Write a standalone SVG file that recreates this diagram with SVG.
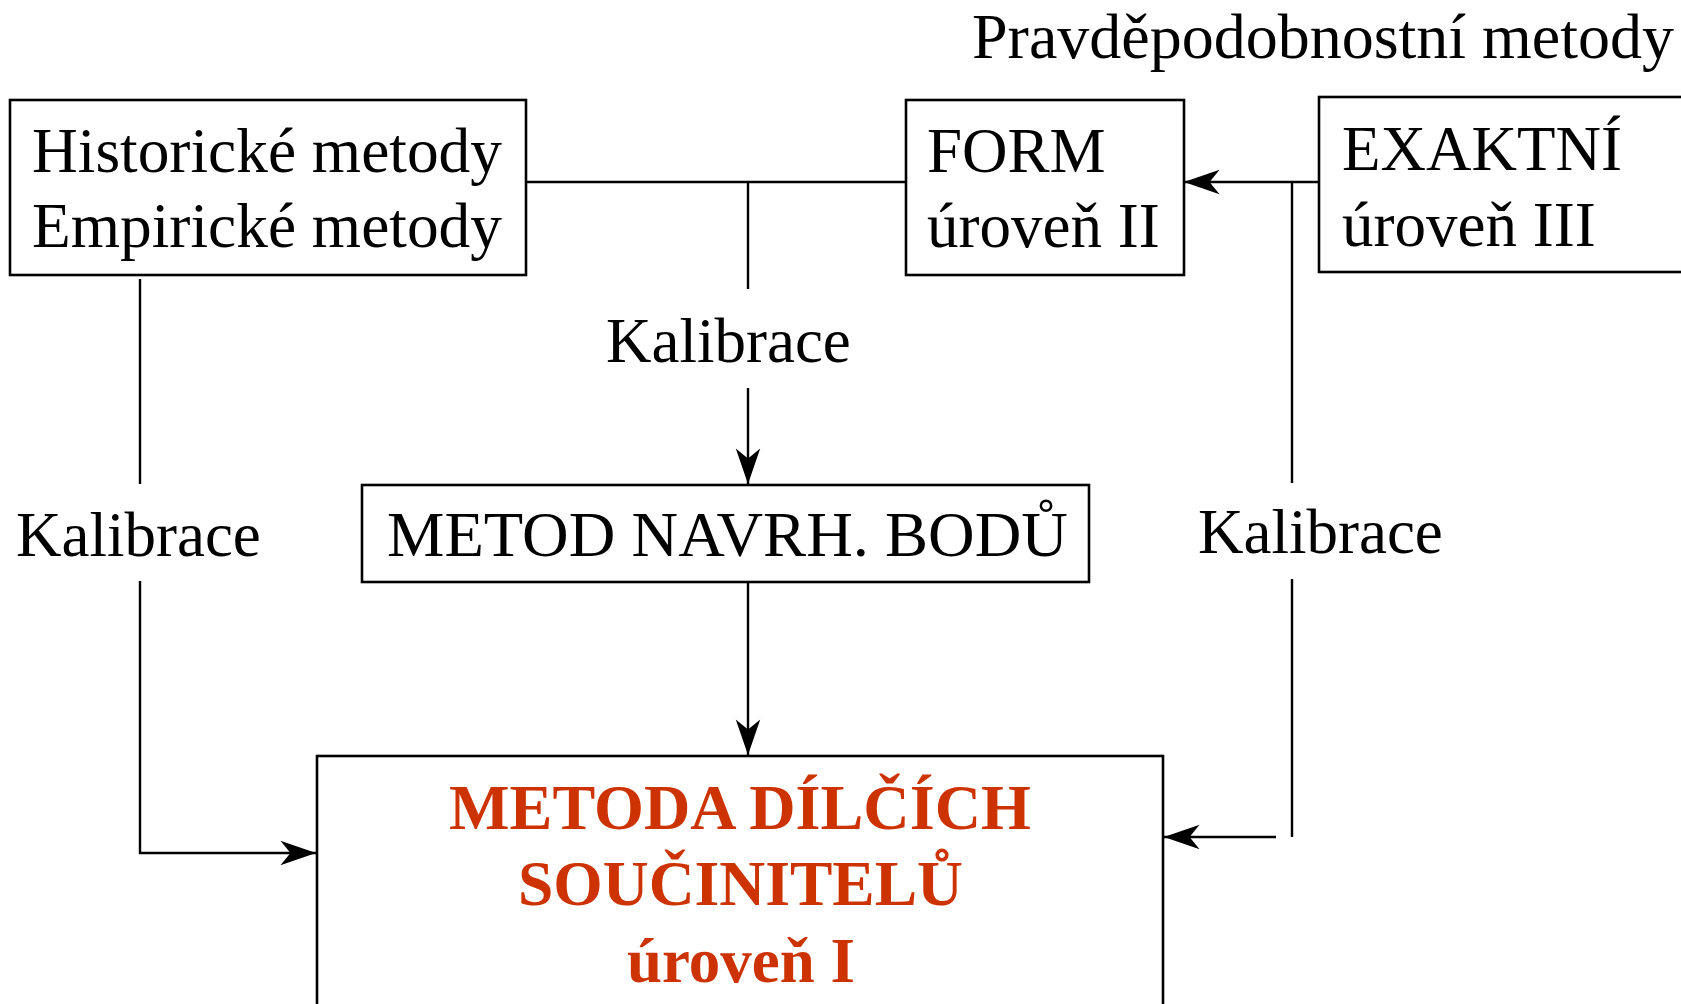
<svg xmlns="http://www.w3.org/2000/svg" width="1681" height="1004" viewBox="0 0 1681 1004">
<style>
.box{fill:#fff;stroke:#000;stroke-width:2.6}
.t{font-family:"Liberation Serif","Times New Roman",serif;font-size:63px;fill:#000}
.r{font-family:"Liberation Serif","Times New Roman",serif;font-size:63px;font-weight:bold;fill:#cc3300}
.c{fill:none;stroke:#000;stroke-width:2.4}
</style>
<defs>
<marker id="ah" markerUnits="userSpaceOnUse" markerWidth="40" markerHeight="30" viewBox="-34 -13 36 26" refX="0" refY="0" orient="auto">
<path d="M0,0 L-32,-11 L-23,0 L-32,11 Z" fill="#000"/>
</marker>
</defs>
<rect width="1681" height="1004" fill="#fff"/>
<text class="t" x="972" y="58" textLength="702" lengthAdjust="spacingAndGlyphs">Pravděpodobnostní metody</text>
<g id="connectors">
<path class="c" d="M526,182 H906"/>
<path class="c" d="M748,182 V289"/>
<path class="c" d="M748,388 V484" marker-end="url(#ah)"/>
<path class="c" d="M748,582 V755" marker-end="url(#ah)"/>
<path class="c" d="M1318,182 H1184" marker-end="url(#ah)"/>
<path class="c" d="M1292,182 V483"/>
<path class="c" d="M1292,579 V837"/>
<path class="c" d="M1276,837 H1164" marker-end="url(#ah)"/>
<path class="c" d="M140,279 V484"/>
<path class="c" d="M140,581 V853 H316" marker-end="url(#ah)"/>
<text class="t" x="606" y="362">Kalibrace</text>
<text class="t" x="16" y="556">Kalibrace</text>
<text class="t" x="1198" y="553">Kalibrace</text>
</g>
<g id="historicke">
<rect class="box" x="10" y="100" width="516" height="175"/>
<text class="t" x="32" y="172" textLength="470" lengthAdjust="spacingAndGlyphs">Historické metody</text>
<text class="t" x="32" y="247" textLength="470" lengthAdjust="spacingAndGlyphs">Empirické metody</text>
</g>
<g id="form">
<rect class="box" x="906" y="100" width="278" height="175"/>
<text class="t" x="927" y="172">FORM</text>
<text class="t" x="927" y="247">úroveň II</text>
</g>
<g id="exaktni">
<rect class="box" x="1319" y="97" width="380" height="175"/>
<text class="t" x="1342" y="170">EXAKTNÍ</text>
<text class="t" x="1342" y="246">úroveň III</text>
</g>
<g id="metod-navrh">
<rect class="box" x="362" y="485" width="727" height="97"/>
<text class="t" x="387" y="556" textLength="681" lengthAdjust="spacingAndGlyphs">METOD NAVRH. BODŮ</text>
</g>
<g id="metoda-dilcich">
<rect class="box" x="317" y="756" width="846" height="270"/>
<text class="r" x="449" y="829" textLength="582" lengthAdjust="spacingAndGlyphs">METODA DÍLČÍCH</text>
<text class="r" x="518" y="905" textLength="445" lengthAdjust="spacingAndGlyphs">SOUČINITELŮ</text>
<text class="r" x="627" y="982" textLength="228" lengthAdjust="spacingAndGlyphs">úroveň I</text>
</g>
</svg>
